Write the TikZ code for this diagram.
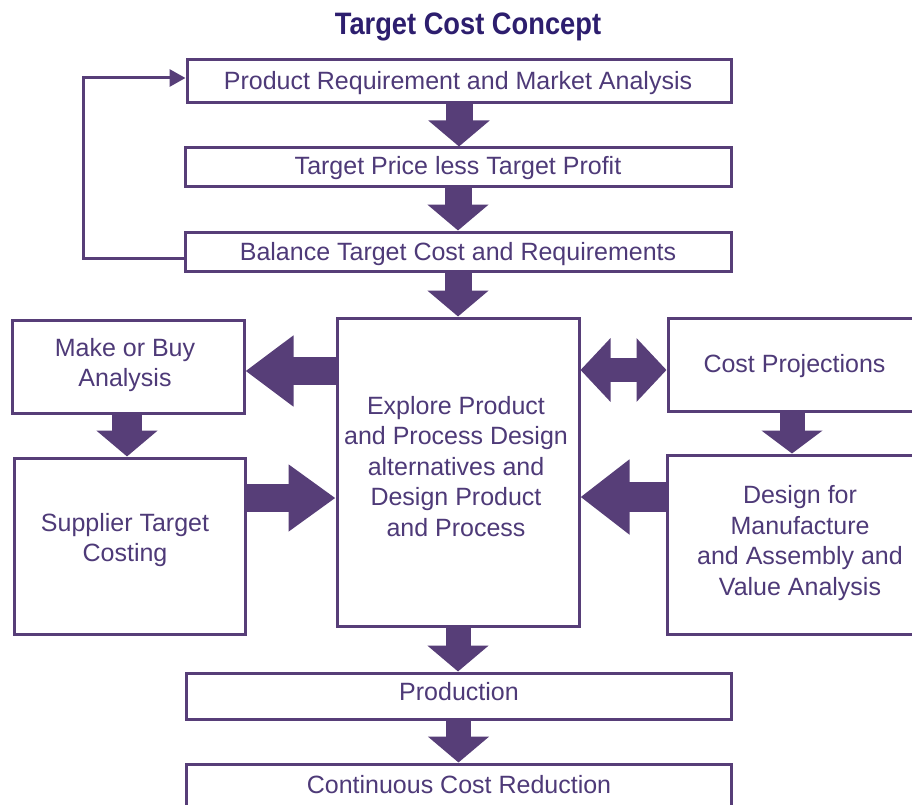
\documentclass[tikz,border=0pt]{standalone}
\usepackage{fontspec}
\setmainfont{Liberation Sans}
\usetikzlibrary{arrows.meta}
\definecolor{pur}{HTML}{573E78}
\definecolor{txtc}{HTML}{4E3A78}
\definecolor{ttl}{HTML}{2D1E6E}
\begin{document}
\begin{tikzpicture}[x=1pt,y=-1pt,
  box/.style={draw=pur, line width=3pt, fill=white, inner sep=0pt, text=txtc, align=center,
    font=\fontsize{25}{30.5}\selectfont},
  txt/.style={inner sep=0pt, text=txtc, align=center, font=\fontsize{25}{30.5}\selectfont},
  fatv/.style={draw=pur, line width=27pt, -{Triangle[width=60pt,length=26pt]}},
  fath/.style={draw=pur, line width=28pt, -{Triangle[width=68pt,length=48pt]}},
  fatd/.style={draw=pur, line width=24pt, {Triangle[width=62pt,length=30pt]}-{Triangle[width=62pt,length=30pt]}},
  thin/.style={draw=pur, line width=3pt, -{Triangle[width=17pt,length=16pt]}}
]
\clip (0,0) rectangle (912,805);
\fill[white] (0,0) rectangle (912,805);

\node[font=\bfseries\fontsize{31}{36}\selectfont, text=ttl, anchor=base, inner sep=0pt] (title) at (468,35) {\scalebox{0.88}[1]{Target Cost Concept}};

\node[box, minimum width=544pt, minimum height=43pt] (b1) at (459,81.5) {};
\node[box, minimum width=546pt, minimum height=39pt] (b2) at (458,167.5) {};
\node[box, minimum width=546pt, minimum height=39pt] (b3) at (458,251.5) {};
\node[box, minimum width=242pt, minimum height=308pt] (ctr) at (458,472) {};
\node[box, minimum width=232pt, minimum height=93pt] (mb) at (128,366.5) {};
\node[box, minimum width=231pt, minimum height=176pt] (sup) at (129.5,546) {};
\node[box, minimum width=253pt, minimum height=93pt] (cp) at (794.5,364.5) {};
\node[box, minimum width=265pt, minimum height=179pt] (dfm) at (799.5,544.5) {};
\node[box, minimum width=545pt, minimum height=46pt] (prod) at (458.5,696) {};
\node[box, minimum width=545pt, minimum height=42pt] (cont) at (458.5,785) {};

\node[txt, anchor=base] at (458,90) {Product Requirement and Market Analysis};
\node[txt, anchor=base] at (458,175) {Target Price less Target Profit};
\node[txt, anchor=base] at (458,260) {Balance Target Cost and Requirements};
\node[txt] at (456,466.5) {Explore Product\\and Process Design\\alternatives and\\Design Product\\and Process};
\node[txt] at (125,365) {Make or Buy\\Analysis};
\node[txt] at (125,540) {Supplier Target\\Costing};
\node[txt, anchor=base] at (794.5,372) {Cost Projections};
\node[txt] at (800,543) {Design for\\Manufacture\\and Assembly and\\Value Analysis};
\node[txt, anchor=base] at (459,700) {Production};
\node[txt, anchor=base] at (459,793) {Continuous Cost Reduction};

\coordinate (yA) at (0,371);
\coordinate (yB) at (0,370);
\coordinate (yC) at (0,498);
\coordinate (yD) at (0,497);
\coordinate (xE) at (127,0);
\coordinate (xF) at (792,0);
\coordinate (fb1) at (83,258);
\coordinate (fb2) at (83,78);

\draw[fatv] (b1.south) -- (b1.south |- b2.north);
\draw[fatv] (b2.south) -- (b3.north);
\draw[fatv] (b3.south) -- (ctr.north);
\draw[fath] (ctr.west |- yA) -- (mb.east |- yA);
\draw[fatd] (ctr.east |- yB) -- (cp.west |- yB);
\draw[fath, -{Triangle[width=64pt,length=47pt]}] (sup.east |- yC) -- (ctr.west |- yC);
\draw[fath, line width=30pt, -{Triangle[width=72pt,length=49pt]}] (dfm.west |- yD) -- (ctr.east |- yD);
\draw[fatv, line width=30pt] (mb.south -| xE) -- (sup.north -| xE);
\draw[fatv, line width=25pt, -{Triangle[width=60pt,length=23pt]}] (cp.south -| xF) -- (dfm.north -| xF);
\draw[fatv, line width=25pt] (ctr.south) -- (ctr.south |- prod.north);
\draw[fatv, line width=25pt] (prod.south) -- (prod.south |- cont.north);
\draw[thin] (b3.west |- fb1) -- (fb1) -- (fb2) -- (b1.west |- fb2);
\end{tikzpicture}
\end{document}
